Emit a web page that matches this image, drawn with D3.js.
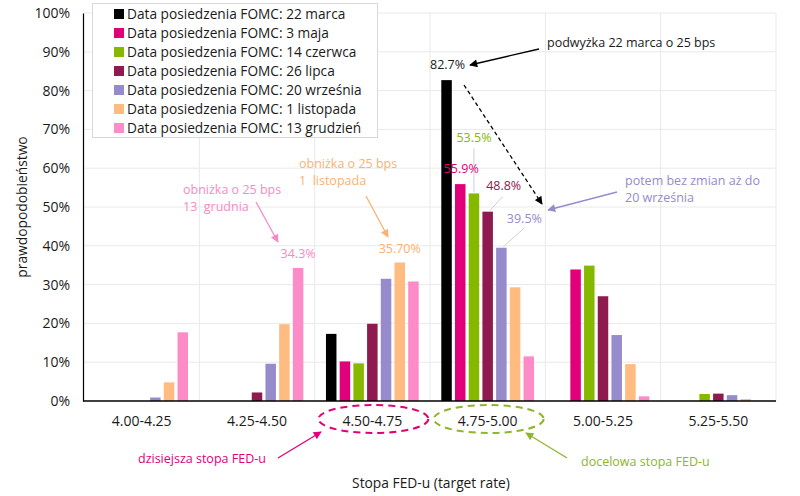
<!DOCTYPE html>
<html>
<head>
<meta charset="utf-8">
<script src="https://cdn.jsdelivr.net/npm/d3@7"></script>
<style>
  body { margin: 0; background: #fff; }
  svg text { font-family: "Open Sans", sans-serif; }
</style>
</head>
<body>
<div id="chart"></div>
<script>
// categories (target rate ranges)
var categories = ["4.00-4.25", "4.25-4.50", "4.50-4.75", "4.75-5.00", "5.00-5.25", "5.25-5.50"];

// FOMC meeting dates (series)
var seriesNames = [
    "Data posiedzenia FOMC: 22 marca",
    "Data posiedzenia FOMC: 3 maja",
    "Data posiedzenia FOMC: 14 czerwca",
    "Data posiedzenia FOMC: 26 lipca",
    "Data posiedzenia FOMC: 20 września",
    "Data posiedzenia FOMC: 1 listopada",
    "Data posiedzenia FOMC: 13 grudzień"
];

// probabilities in % per series, one value per category
var marca22    = [0, 0, 17.3, 82.7, 0, 0];
var maja3      = [0, 0, 10.2, 55.9, 33.9, 0];
var czerwca14  = [0, 0, 9.7, 53.5, 34.9, 1.8];
var lipca26    = [0, 2.2, 19.9, 48.8, 27.0, 1.9];
var wrzesnia20 = [0.9, 9.6, 31.5, 39.5, 17.0, 1.5];
var listopada1 = [4.8, 19.8, 35.7, 29.3, 9.5, 0.5];
var grudnia13  = [17.7, 34.3, 30.8, 11.5, 1.2, 0];

var yTicks = [0, 10, 20, 30, 40, 50, 60, 70, 80, 90, 100];

var seriesValues = [marca22, maja3, czerwca14, lipca26, wrzesnia20, listopada1, grudnia13];
var colors = ["#000000", "#e2007a", "#86b800", "#8e1a50", "#968bcb", "#ffbb80", "#fc8bc8"];

var W = 800, H = 496;
var margin = { left: 84, right: 24, top: 13, bottom: 95 };

var svg = d3.select("#chart").append("svg")
    .attr("width", W).attr("height", H);

var defs = svg.append("defs");
function marker(id, color) {
    defs.append("marker")
        .attr("id", id)
        .attr("viewBox", "0 0 10 10")
        .attr("refX", 9).attr("refY", 5)
        .attr("markerWidth", 9).attr("markerHeight", 8)
        .attr("markerUnits", "userSpaceOnUse")
        .attr("orient", "auto")
        .append("path")
        .attr("d", "M0,0 L10,5 L0,10 z")
        .attr("fill", color);
}
marker("m-black", "#000");
marker("m-magenta", "#e2007a");
marker("m-green", "#8db62a");
marker("m-purple", "#968bcb");
marker("m-pink", "#f78ac6");
marker("m-orange", "#f9b272");

// scales
var x0 = d3.scaleBand()
    .domain(categories)
    .range([margin.left, W - margin.right])
    .paddingInner(0.196)
    .paddingOuter(0.098);

var x1 = d3.scaleBand()
    .domain(d3.range(seriesNames.length))
    .range([0, x0.bandwidth()])
    .paddingInner(0.234)
    .paddingOuter(0);

var y = d3.scaleLinear()
    .domain([0, 100])
    .range([H - margin.bottom, margin.top]);

var step = x0.step();
var plotLeft = margin.left, plotRight = W - margin.right;

// gridlines
var grid = svg.append("g").attr("class", "grid");
grid.selectAll("line.h")
    .data(yTicks.slice(1))
    .enter().append("line")
    .attr("x1", plotLeft).attr("x2", plotRight)
    .attr("y1", d => y(d)).attr("y2", d => y(d))
    .attr("stroke", "#e9e9e9").attr("stroke-width", 1);
grid.selectAll("line.v")
    .data(d3.range(1, categories.length + 1))
    .enter().append("line")
    .attr("x1", i => plotLeft + i * step).attr("x2", i => plotLeft + i * step)
    .attr("y1", y(100)).attr("y2", y(0))
    .attr("stroke", "#e9e9e9").attr("stroke-width", 1);

// bars
var groups = svg.selectAll("g.cat")
    .data(categories)
    .enter().append("g")
    .attr("class", "cat")
    .attr("transform", d => "translate(" + x0(d) + ",0)");

groups.selectAll("rect")
    .data((c, ci) => seriesValues.map((vals, si) => ({ si: si, v: vals[ci] })))
    .enter().append("rect")
    .attr("x", d => x1(d.si))
    .attr("width", x1.bandwidth())
    .attr("y", d => y(d.v))
    .attr("height", d => y(0) - y(d.v))
    .attr("fill", d => colors[d.si]);

// axes
var yAxis = svg.append("g")
    .attr("transform", "translate(" + (plotLeft - 1) + ",0)")
    .call(d3.axisLeft(y).tickValues(yTicks).tickFormat(d => d + "%").tickSize(0).tickPadding(13));
yAxis.select(".domain").attr("stroke", "#000").attr("stroke-width", 1.2);
yAxis.selectAll("text").attr("font-size", "14px").attr("fill", "#1a1a1a")
    .style("font-family", "'Open Sans', sans-serif");

var xAxis = svg.append("g")
    .attr("transform", "translate(0," + y(0) + ")")
    .call(d3.axisBottom(x0).tickSize(0).tickPadding(15));
xAxis.select(".domain").attr("stroke", "#000").attr("stroke-width", 1.5)
    .attr("d", "M" + (plotLeft - 1) + ",0H" + plotRight);
xAxis.selectAll("text").attr("font-size", "14px").attr("fill", "#1a1a1a")
    .style("font-family", "'Open Sans', sans-serif");

// axis titles
svg.append("text")
    .attr("x", 431).attr("y", 488)
    .attr("text-anchor", "middle")
    .attr("font-size", "13.8px").attr("fill", "#1a1a1a")
    .text("Stopa FED-u (target rate)");
svg.append("text")
    .attr("transform", "translate(27,207) rotate(-90)")
    .attr("text-anchor", "middle")
    .attr("font-size", "13.8px").attr("fill", "#1a1a1a")
    .text("prawdopodobieństwo");

// legend
var legend = svg.append("g");
legend.append("rect")
    .attr("x", 92.5).attr("y", 3.5).attr("width", 285).attr("height", 134)
    .attr("fill", "#fff").attr("stroke", "#d9d9d9");
var li = legend.selectAll("g.item")
    .data(seriesNames)
    .enter().append("g")
    .attr("transform", (d, i) => "translate(114," + (14 + i * 19) + ")");
li.append("rect")
    .attr("x", 0).attr("y", -5).attr("width", 10).attr("height", 10)
    .attr("fill", (d, i) => colors[i]);
li.append("text")
    .attr("x", 13).attr("dy", "0.35em")
    .attr("font-size", "13.7px").attr("fill", "#1a1a1a")
    .text(d => d);

// value labels above bars
function bx(ci, si) { return x0(categories[ci]) + x1(si) + x1.bandwidth() / 2; }
function by(ci, si) { return y(seriesValues[si][ci]); }

var valueLabels = [
    { ci: 3, si: 0, text: "82.7%", dx: 1, dy: -15, color: "#1a1a1a" },
    { ci: 3, si: 2, text: "53.5%", dx: 0, dy: -56, color: "#86b800", leader: [0, -45, 0, -1] },
    { ci: 3, si: 1, text: "55.9%", dx: 1, dy: -15, color: "#e2007a" },
    { ci: 3, si: 3, text: "48.8%", dx: 16, dy: -26, color: "#8e1a50", leader: [15, -15, 2, -1] },
    { ci: 3, si: 4, text: "39.5%", dx: 23, dy: -29, color: "#968bcb", leader: [23, -20, 2, -1] },
    { ci: 1, si: 6, text: "34.3%", dx: 0, dy: -14, color: "#f78ac6" },
    { ci: 2, si: 5, text: "35.70%", dx: 0, dy: -14, color: "#f9b272" }
];
valueLabels.forEach(function(l) {
    var cx = bx(l.ci, l.si), cy = by(l.ci, l.si);
    if (l.leader) {
        svg.append("line")
            .attr("x1", cx + l.leader[0]).attr("y1", cy + l.leader[1])
            .attr("x2", cx + l.leader[2]).attr("y2", cy + l.leader[3])
            .attr("stroke", "#d0d0d0").attr("stroke-width", 1);
    }
    svg.append("text")
        .attr("x", cx + l.dx).attr("y", cy + l.dy)
        .attr("dy", "0.35em")
        .attr("text-anchor", "middle")
        .attr("font-size", "12.5px")
        .attr("fill", l.color)
        .text(l.text);
});

// annotations
function arrow(x1a, y1a, x2a, y2a, color, mk, dash) {
    svg.append("line")
        .attr("x1", x1a).attr("y1", y1a).attr("x2", x2a).attr("y2", y2a)
        .attr("stroke", color).attr("stroke-width", 1.3)
        .attr("stroke-dasharray", dash || null)
        .attr("marker-end", "url(#" + mk + ")");
}
function note(x, yy, lines, color, anchor) {
    var t = svg.append("text")
        .attr("x", x).attr("y", yy)
        .attr("font-size", "12.5px").attr("fill", color)
        .attr("text-anchor", anchor || "start");
    lines.forEach(function(s, i) {
        t.append("tspan").attr("x", x).attr("dy", i === 0 ? "0.35em" : 17).text(s);
    });
}

note(547, 43, ["podwyżka 22 marca o 25 bps"], "#1a1a1a");
arrow(539, 49, 470, 65, "#000", "m-black");
arrow(464, 85, 542, 204, "#000", "m-black", "4,3");

note(625, 181, ["potem bez zmian aż do", "20 września"], "#968bcb");
arrow(617, 192, 548, 210, "#968bcb", "m-purple");

note(183, 190, ["obniżka o 25 bps", "13\u00a0\u00a0grudnia"], "#f78ac6");
arrow(256, 202, 278, 242, "#f78ac6", "m-pink");

note(299, 164, ["obniżka o 25 bps", "1\u00a0\u00a0listopada"], "#f9b272");
arrow(366, 196, 388, 237, "#f9b272", "m-orange");

// dashed ellipses round the x labels
svg.append("ellipse")
    .attr("cx", x0("4.50-4.75") + x0.bandwidth() / 2 + 1).attr("cy", 419)
    .attr("rx", 55).attr("ry", 14)
    .attr("fill", "none").attr("stroke", "#e2007a").attr("stroke-width", 2)
    .attr("stroke-dasharray", "7,5");
svg.append("ellipse")
    .attr("cx", x0("4.75-5.00") + x0.bandwidth() / 2 + 1).attr("cy", 419)
    .attr("rx", 55).attr("ry", 14)
    .attr("fill", "none").attr("stroke", "#8db62a").attr("stroke-width", 2)
    .attr("stroke-dasharray", "7,5");

note(138, 459, ["dzisiejsza stopa FED-u"], "#e2007a");
arrow(278, 458, 321, 432, "#e2007a", "m-magenta");

note(581, 462, ["docelowa stopa FED-u"], "#8db62a");
arrow(567, 458, 526, 433, "#8db62a", "m-green");
</script>
</body>
</html>
